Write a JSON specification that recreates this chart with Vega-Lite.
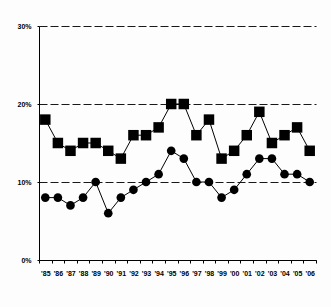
{
  "$schema": "https://vega.github.io/schema/vega-lite/v6.json",
  "width": 277,
  "height": 234,
  "autosize": {"type": "none"},
  "padding": {"left": 39, "top": 26, "right": 15, "bottom": 47},
  "background": "#fdfdfd",
  "config": {
    "view": {"stroke": null},
    "axis": {"labelFont": "Liberation Sans", "labelFontSize": 7, "labelFontWeight": "bold", "labelColor": "#000", "domainColor": "#000", "tickColor": "#000"}
  },
  "data": {"values": [
    {"year": "'85", "series": "A", "value": 18}, {"year": "'86", "series": "A", "value": 15},
    {"year": "'87", "series": "A", "value": 14}, {"year": "'88", "series": "A", "value": 15},
    {"year": "'89", "series": "A", "value": 15}, {"year": "'90", "series": "A", "value": 14},
    {"year": "'91", "series": "A", "value": 13}, {"year": "'92", "series": "A", "value": 16},
    {"year": "'93", "series": "A", "value": 16}, {"year": "'94", "series": "A", "value": 17},
    {"year": "'95", "series": "A", "value": 20}, {"year": "'96", "series": "A", "value": 20},
    {"year": "'97", "series": "A", "value": 16}, {"year": "'98", "series": "A", "value": 18},
    {"year": "'99", "series": "A", "value": 13}, {"year": "'00", "series": "A", "value": 14},
    {"year": "'01", "series": "A", "value": 16}, {"year": "'02", "series": "A", "value": 19},
    {"year": "'03", "series": "A", "value": 15}, {"year": "'04", "series": "A", "value": 16},
    {"year": "'05", "series": "A", "value": 17}, {"year": "'06", "series": "A", "value": 14},
    {"year": "'85", "series": "B", "value": 8}, {"year": "'86", "series": "B", "value": 8},
    {"year": "'87", "series": "B", "value": 7}, {"year": "'88", "series": "B", "value": 8},
    {"year": "'89", "series": "B", "value": 10}, {"year": "'90", "series": "B", "value": 6},
    {"year": "'91", "series": "B", "value": 8}, {"year": "'92", "series": "B", "value": 9},
    {"year": "'93", "series": "B", "value": 10}, {"year": "'94", "series": "B", "value": 11},
    {"year": "'95", "series": "B", "value": 14}, {"year": "'96", "series": "B", "value": 13},
    {"year": "'97", "series": "B", "value": 10}, {"year": "'98", "series": "B", "value": 10},
    {"year": "'99", "series": "B", "value": 8}, {"year": "'00", "series": "B", "value": 9},
    {"year": "'01", "series": "B", "value": 11}, {"year": "'02", "series": "B", "value": 13},
    {"year": "'03", "series": "B", "value": 13}, {"year": "'04", "series": "B", "value": 11},
    {"year": "'05", "series": "B", "value": 11}, {"year": "'06", "series": "B", "value": 10}
  ]},
  "encoding": {
    "x": {
      "field": "year", "type": "ordinal", "sort": null, "title": null,
      "scale": {"type": "band", "paddingInner": 0, "paddingOuter": 0},
      "axis": {"labelAngle": 0, "tickSize": 3, "tickBand": "extent", "labelPadding": 6, "grid": false}
    },
    "y": {
      "field": "value", "type": "quantitative", "title": null,
      "scale": {"domain": [0, 30]},
      "axis": {"values": [0, 10, 20, 30], "labelExpr": "datum.value + '%'", "tickSize": 2, "labelPadding": 6,
               "grid": true, "gridColor": "#000", "gridDash": [8, 3], "gridOpacity": 0.9}
    }
  },
  "layer": [
    {"mark": {"type": "line", "color": "#000", "strokeWidth": 1}, "encoding": {"detail": {"field": "series"}}},
    {"mark": {"type": "point", "filled": true, "color": "#000", "opacity": 1},
     "encoding": {
       "shape": {"field": "series", "scale": {"domain": ["A", "B"], "range": ["square", "circle"]}, "legend": null},
       "size": {"field": "series", "scale": {"domain": ["A", "B"], "range": [110, 75]}, "legend": null}
     }}
  ]
}
